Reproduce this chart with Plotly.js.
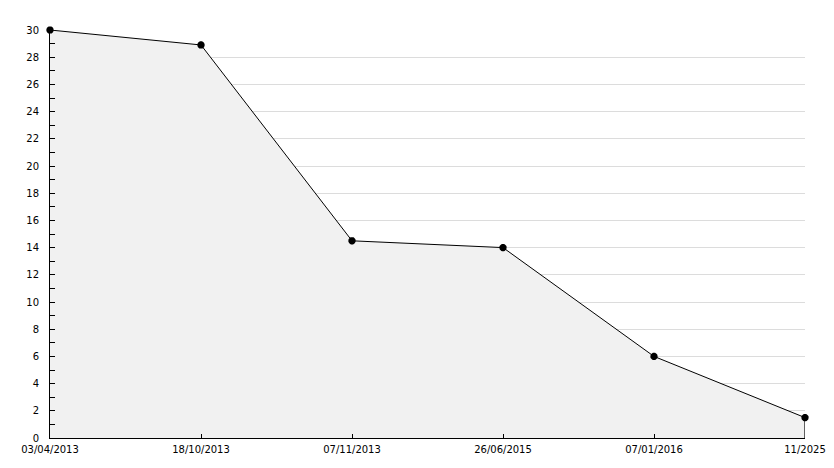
<!DOCTYPE html>
<html>
<head>
<meta charset="utf-8">
<script src="https://cdn.plot.ly/plotly-3.0.1.min.js"></script>
<style>html,body{margin:0;padding:0;background:#fff;}#chart{width:834px;height:468px;}</style>
</head>
<body>
<div id="chart"></div>
<script>
const categories = ["03/04/2013", "18/10/2013", "07/11/2013", "26/06/2015", "07/01/2016", "11/2025"];
const values = [30, 28.9, 14.5, 14, 6, 1.5];
const yTickVals = [0, 2, 4, 6, 8, 10, 12, 14, 16, 18, 20, 22, 24, 26, 28, 30];

const idx = categories.map((c, i) => i);
const last = idx.length - 1;

const traces = [
  {
    x: idx, y: values, type: "scatter", mode: "lines+markers",
    fill: "tozeroy", fillcolor: "#f1f1f1",
    line: {color: "#000", width: 1},
    marker: {symbol: "asterisk-open", size: 6, color: "#000", line: {color: "#000", width: 2.5}},
    hoverinfo: "skip", cliponaxis: false
  },
  {
    x: [idx[last], idx[last]], y: [0, values[last]], type: "scatter", mode: "lines",
    line: {color: "#000", width: 1.2}, hoverinfo: "skip", cliponaxis: false
  }
];

const layout = {
  width: 834, height: 468,
  margin: {l: 50, r: 29, t: 30, b: 30},
  paper_bgcolor: "#fff", plot_bgcolor: "#fff",
  showlegend: false,
  font: {family: "DejaVu Sans", size: 10, color: "#000"},
  xaxis: {
    range: [0, last], tickvals: idx, ticktext: categories,
    showgrid: false, zeroline: false,
    showline: true, linecolor: "#000", linewidth: 1,
    ticks: "inside", ticklen: 4, tickcolor: "#000",
    ticklabelstandoff: 2,
    tickfont: {family: "DejaVu Sans", size: 10, color: "#000"}
  },
  yaxis: {
    range: [0, 30], tickvals: yTickVals,
    showgrid: true, gridcolor: "#dcdcdc", gridwidth: 1,
    zeroline: false,
    showline: true, linecolor: "#000", linewidth: 1,
    ticks: "inside", ticklen: 5, tickcolor: "#000",
    ticklabelstandoff: 8,
    minor: {dtick: 1, tick0: 1, ticks: "inside", ticklen: 5, tickcolor: "#000", showgrid: false},
    tickfont: {family: "DejaVu Sans", size: 10, color: "#000"}
  }
};

Plotly.newPlot("chart", traces, layout, {staticPlot: true, displayModeBar: false});
</script>
</body>
</html>
